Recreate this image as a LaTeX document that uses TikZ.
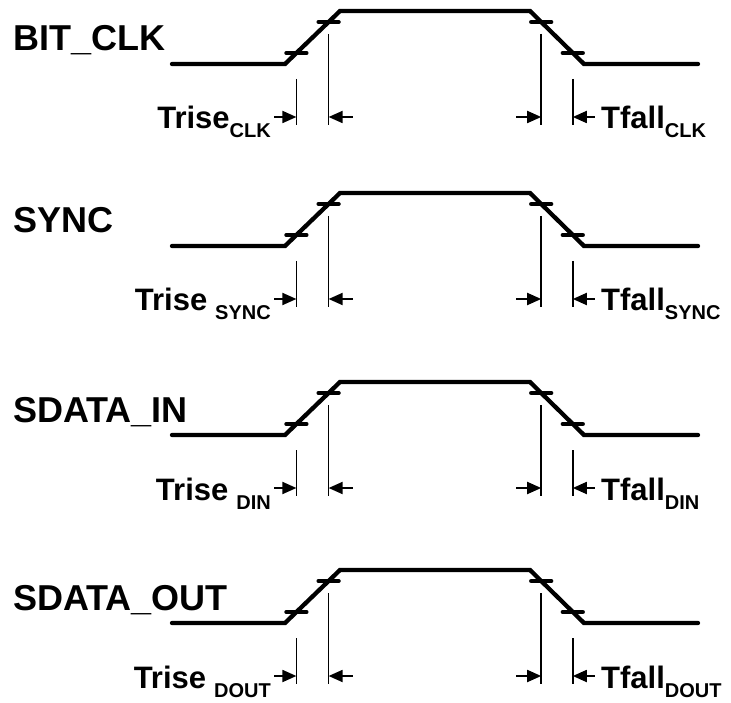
\documentclass[tikz,border=0pt]{standalone}
\usepackage{fontspec}
\setmainfont{Liberation Sans}
\usetikzlibrary{arrows.meta}

\begin{document}
\begin{tikzpicture}[x=1pt,y=-1pt,
        wave/.style={line width=4.3pt,line cap=round},
        guide/.style={line width=1.6pt},
        dim/.style={line width=1.8pt,-{Triangle[length=14pt,width=12pt]}},
        sig/.style={font=\fontsize{36}{36}\selectfont\bfseries,inner sep=0pt,anchor=base west},
        tlab/.style={font=\fontsize{31}{31}\selectfont\bfseries,inner sep=0pt}]
    \useasboundingbox (0,0) rectangle (731,703);
    \foreach \L/\name/\sub/\gap [count=\i] in {64/BIT\_CLK/CLK/0,246/SYNC/SYNC/8,435/SDATA\_IN/DIN/8,623/SDATA\_OUT/DOUT/8}{
        \begin{scope}[shift={(0,\L)}]
            \node[sig] (name\i) at (13,-13) {\name};
            \draw[wave] (172,0) -- (285,0) -- (340,-53) -- (530,-53) -- (584,0) -- (698,0);
            \coordinate (ra\i) at (296.4,-11);
            \coordinate (rb\i) at (328.6,-42);
            \coordinate (fa\i) at (541.2,-42);
            \coordinate (fb\i) at (572.8,-11);
            \foreach \c in {ra,rb,fa,fb}
                \draw[wave] ([xshift=-10pt]\c\i) -- ([xshift=10pt]\c\i);
            \draw[guide] (296.4,15) -- (296.4,61);
            \draw[guide] (328.6,-30) -- (328.6,61);
            \draw[guide] (541.2,-30) -- (541.2,61);
            \draw[guide] (572.8,15) -- (572.8,61);
            \coordinate (ta\i) at (296.4,53);
            \coordinate (tb\i) at (328.6,53);
            \coordinate (tc\i) at (541.2,53);
            \coordinate (td\i) at (572.8,53);
            \draw[dim] ([xshift=-22pt]ta\i) -- (ta\i);
            \draw[dim] ([xshift=24pt]tb\i) -- (tb\i);
            \draw[dim] ([xshift=-25pt]tc\i) -- (tc\i);
            \draw[dim] ([xshift=22pt]td\i) -- (td\i);
            \node[tlab,anchor=base east] (rise\i) at (271,65) {Trise\hspace{\gap pt}\raisebox{-9pt}{\fontsize{20}{20}\selectfont\sub}};
            \node[tlab,anchor=base west] (fall\i) at (601,65) {Tfall\raisebox{-9pt}{\fontsize{20}{20}\selectfont\sub}};
        \end{scope}
    }
\end{tikzpicture}
\end{document}
